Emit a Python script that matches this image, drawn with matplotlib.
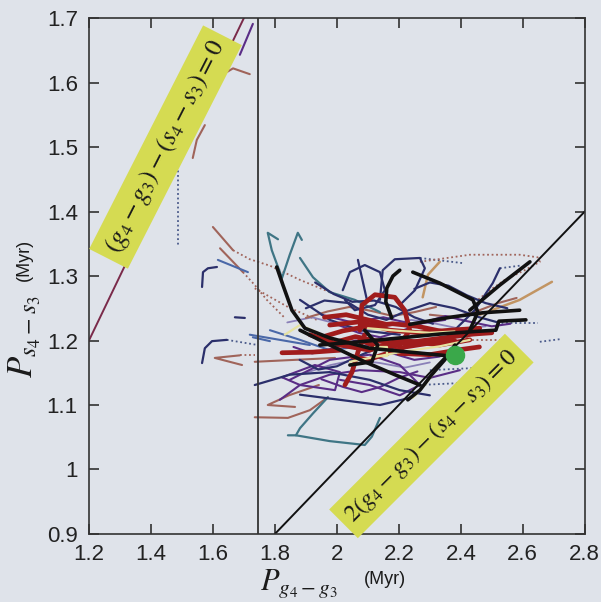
import matplotlib
matplotlib.use("Agg")
import matplotlib.pyplot as plt

plt.rcParams['mathtext.fontset'] = 'stix'
plt.rcParams['font.family'] = ['Liberation Sans', 'DejaVu Sans']

PAGE = '#dfe3ea'
BOX = '#d5db52'

# axis ticks
x_ticks = [1.2, 1.4, 1.6, 1.8, 2.0, 2.2, 2.4, 2.6, 2.8]
x_tick_labels = ['1.2', '1.4', '1.6', '1.8', '2', '2.2', '2.4', '2.6', '2.8']
y_ticks = [0.9, 1.0, 1.1, 1.2, 1.3, 1.4, 1.5, 1.6, 1.7]
y_tick_labels = ['0.9', '1', '1.1', '1.2', '1.3', '1.4', '1.5', '1.6', '1.7']

# resonance lines and reference period
diag_g = [1.2, 1.7]          # (g4-g3)-(s4-s3)=0  ->  P_s = P_g
half_g = [1.8, 2.8]          # 2(g4-g3)-(s4-s3)=0 ->  P_s = P_g/2
vline_g = 1.745
final_point = (2.381, 1.178)

# orbital tracks, (P_g4-g3, P_s4-s3) in Myr
black_tracks = [
    ([1.806, 1.826, 1.855, 1.897, 1.977, 2.106, 2.235, 2.365],
     [1.314, 1.286, 1.247, 1.219, 1.204, 1.188, 1.182, 1.176]),
    ([2.245, 2.332, 2.439, 2.455, 2.429], [1.306, 1.289, 1.263, 1.244, 1.216]),
    ([2.429, 2.526, 2.623], [1.247, 1.286, 1.322]),
    ([2.203, 2.181, 2.161, 2.158, 2.177], [1.309, 1.300, 1.281, 1.260, 1.235]),
    ([1.945, 2.074, 2.203, 2.332, 2.445, 2.513, 2.523, 2.610],
     [1.193, 1.198, 1.204, 1.210, 1.214, 1.216, 1.230, 1.232]),
    ([2.381, 2.348, 2.306, 2.268, 2.229], [1.193, 1.170, 1.147, 1.123, 1.108]),
    ([2.090, 2.132, 2.113, 2.042], [1.216, 1.193, 1.167, 1.162]),
    ([2.235, 2.365, 2.471, 2.590], [1.225, 1.236, 1.243, 1.247]),
    ([1.881, 1.977, 2.090, 2.187, 2.268], [1.216, 1.193, 1.167, 1.147, 1.131]),
]
red_tracks = [
    ([1.977, 2.074, 2.171, 2.268, 2.365, 2.461], [1.224, 1.229, 1.216, 1.212, 1.216, 1.219]),
    ([2.074, 2.081, 2.123, 2.187, 2.219, 2.235, 2.203, 2.139, 2.074],
     [1.216, 1.255, 1.271, 1.267, 1.247, 1.216, 1.193, 1.188, 1.201]),
    ([1.913, 2.010, 2.106, 2.203, 2.332, 2.429], [1.209, 1.193, 1.185, 1.201, 1.193, 1.201]),
    ([1.823, 1.923, 2.010], [1.181, 1.182, 1.185]),
    ([2.090, 2.068, 2.049, 2.026], [1.209, 1.182, 1.151, 1.131]),
    ([2.200, 2.300, 2.400, 2.460], [1.180, 1.178, 1.186, 1.190]),
    ([1.950, 2.020, 2.100, 2.180, 2.260, 2.340, 2.420], [1.205, 1.215, 1.222, 1.226, 1.222, 1.214, 1.208]),
    ([2.000, 2.060, 2.120, 2.200, 2.280, 2.360, 2.440, 2.500],
     [1.198, 1.206, 1.200, 1.195, 1.200, 1.205, 1.210, 1.212]),
    ([1.960, 2.030, 2.100, 2.160], [1.236, 1.240, 1.232, 1.225]),
    ([2.050, 2.100, 2.150, 2.220, 2.300, 2.380], [1.175, 1.170, 1.178, 1.190, 1.196, 1.200]),
]
navy_tracks = [
    ([2.019, 2.042, 2.090, 2.139, 2.155, 2.123, 2.058, 2.026],
     [1.278, 1.306, 1.317, 1.306, 1.278, 1.255, 1.247, 1.263]),
    ([2.139, 2.148, 2.187, 2.268, 2.284, 2.252, 2.203],
     [1.263, 1.309, 1.326, 1.328, 1.312, 1.278, 1.255]),
    ([1.735, 1.848, 1.977, 2.106, 2.203, 2.300], [1.131, 1.147, 1.151, 1.139, 1.123, 1.115]),
    ([1.881, 1.977, 2.074, 2.203], [1.263, 1.232, 1.216, 1.209]),
    ([1.881, 2.010, 2.139, 2.235], [1.116, 1.108, 1.100, 1.111]),
    ([2.068, 2.097], [1.325, 1.263]),
    ([2.365, 2.445, 2.503, 2.526], [1.209, 1.247, 1.289, 1.312]),
    ([1.565, 1.568, 1.584, 1.613], [1.283, 1.306, 1.312, 1.314]),
    ([1.671, 1.703], [1.236, 1.235]),
    ([1.565, 1.574, 1.597, 1.645], [1.165, 1.188, 1.199, 1.201]),
    ([1.900, 1.960, 2.040, 2.100, 2.160, 2.220, 2.300, 2.380, 2.460, 2.520],
     [1.250, 1.262, 1.258, 1.240, 1.232, 1.245, 1.258, 1.250, 1.236, 1.228]),
    ([1.880, 1.940, 2.000, 2.080, 2.140, 2.200], [1.170, 1.155, 1.160, 1.178, 1.190, 1.185]),
    ([2.250, 2.300, 2.360, 2.420, 2.480, 2.550], [1.280, 1.290, 1.285, 1.270, 1.258, 1.250]),
    ([1.930, 1.990, 2.050, 2.120, 2.190, 2.250, 2.310], [1.290, 1.272, 1.260, 1.262, 1.252, 1.236, 1.226]),
]
purple_tracks = [
    ([1.816, 1.881, 1.977, 2.074, 2.203, 2.300, 2.397], [1.108, 1.131, 1.147, 1.154, 1.151, 1.142, 1.154]),
    ([1.848, 1.977, 2.106, 2.203, 2.268, 2.203, 2.106, 2.010],
     [1.139, 1.170, 1.178, 1.162, 1.131, 1.115, 1.131, 1.139]),
    ([1.823, 1.929, 2.010, 1.994, 1.881, 1.823], [1.143, 1.162, 1.151, 1.123, 1.131, 1.143]),
    ([1.687, 1.729], [1.643, 1.691]),
    ([1.950, 2.050, 2.150, 2.250, 2.350], [1.240, 1.228, 1.236, 1.225, 1.232]),
    ([1.860, 1.920, 1.990, 2.060, 2.120, 2.180, 2.250, 2.330, 2.400],
     [1.190, 1.180, 1.188, 1.200, 1.196, 1.180, 1.170, 1.175, 1.188]),
    ([2.000, 2.070, 2.140, 2.210, 2.280, 2.350, 2.420, 2.500, 2.560],
     [1.225, 1.212, 1.205, 1.215, 1.228, 1.238, 1.230, 1.222, 1.226]),
    ([1.950, 2.020, 2.080, 2.140, 2.200, 2.260], [1.140, 1.128, 1.120, 1.128, 1.142, 1.152]),
]
lavender_tracks = [
    ([1.840, 1.920, 2.000, 2.080, 2.160, 2.240, 2.320, 2.400, 2.480],
     [1.228, 1.236, 1.226, 1.215, 1.222, 1.232, 1.226, 1.218, 1.222]),
    ([1.900, 1.980, 2.060, 2.140, 2.220, 2.300], [1.150, 1.162, 1.170, 1.165, 1.158, 1.166]),
]
blue_tracks = [
    ([1.616, 1.713], [1.325, 1.306]),
    ([1.729, 1.784], [1.205, 1.199]),
    ([1.784, 1.881, 1.977, 2.106], [1.216, 1.201, 1.185, 1.193]),
    ([1.719, 1.816, 1.913], [1.209, 1.201, 1.193]),
]
teal_tracks = [
    ([1.810, 1.777, 1.790, 1.823, 1.848, 1.874, 1.887], [1.357, 1.367, 1.340, 1.297, 1.333, 1.367, 1.356]),
    ([1.881, 1.923, 1.977, 2.058, 2.139], [1.328, 1.298, 1.275, 1.263, 1.244]),
    ([1.971, 1.923, 1.881, 1.868, 1.842], [1.112, 1.087, 1.064, 1.053, 1.053]),
    ([1.868, 1.977, 2.090, 2.113, 2.139], [1.053, 1.044, 1.038, 1.051, 1.080]),
]
brown_tracks = [
    ([1.623, 1.665, 1.719], [1.610, 1.622, 1.613]),
    ([1.535, 1.548, 1.574], [1.483, 1.511, 1.534]),
    ([1.600, 1.665], [1.376, 1.340]),
    ([1.623, 1.697], [1.343, 1.306]),
    ([1.687, 1.606, 1.694], [1.177, 1.173, 1.162]),
    ([1.735, 1.994], [1.167, 1.173]),
    ([1.735, 1.842, 1.913, 1.971], [1.081, 1.080, 1.092, 1.112]),
    ([1.865, 1.777, 1.845, 1.942], [1.097, 1.100, 1.115, 1.131]),
    ([1.900, 1.970, 2.040, 2.110, 2.180, 2.250, 2.320], [1.235, 1.245, 1.252, 1.246, 1.238, 1.244, 1.252]),
    ([2.300, 2.380, 2.450, 2.520, 2.580], [1.240, 1.236, 1.245, 1.258, 1.266]),
]
tan_tracks = [
    ([2.277, 2.294, 2.332], [1.267, 1.302, 1.322]),
    ([2.461, 2.590, 2.694], [1.240, 1.263, 1.291]),
]
cream_tracks = [
    ([2.123, 2.161, 2.161, 2.123, 2.123], [1.190, 1.190, 1.176, 1.176, 1.190]),
    ([2.042, 2.203, 2.332, 2.429], [1.167, 1.182, 1.191, 1.201]),
    ([2.365, 2.323, 2.284, 2.245], [1.182, 1.157, 1.131, 1.111]),
    ([1.832, 1.881, 1.939], [1.209, 1.224, 1.212]),
    ([2.100, 2.200, 2.300, 2.380], [1.219, 1.215, 1.212, 1.214]),
]
dotted_brown = [
    ([1.665, 1.719, 1.784, 1.881, 1.977], [1.340, 1.326, 1.316, 1.294, 1.275]),
    ([1.697, 1.735, 1.774, 1.832], [1.306, 1.286, 1.263, 1.235]),
    ([1.687, 1.735], [1.177, 1.177]),
    ([2.268, 2.429, 2.590, 2.648, 2.655, 2.606, 2.542, 2.494, 2.455],
     [1.322, 1.333, 1.333, 1.329, 1.322, 1.309, 1.294, 1.278, 1.263]),
    ([1.735, 1.842, 1.935], [1.281, 1.252, 1.232]),
    ([2.406, 2.526], [1.201, 1.201]),
]
dotted_navy = [
    ([1.487, 1.487], [1.470, 1.345]),
    ([1.645, 1.745], [1.201, 1.193]),
    ([2.516, 2.648], [1.227, 1.227]),
    ([2.655, 2.719], [1.198, 1.202]),
    ([2.268, 2.406], [1.328, 1.320]),
    ([2.300, 2.429, 2.526], [1.154, 1.157, 1.159]),
    ([2.268, 2.397], [1.131, 1.134]),
    ([2.526, 2.590], [1.312, 1.316]),
]

fig = plt.figure(figsize=(6.01, 6.02), dpi=100, facecolor=PAGE)
ax = fig.add_axes([0.148, 0.113, 0.825, 0.857], facecolor=PAGE)


def draw(tracks, **kw):
    for gx, sy in tracks:
        ax.plot(gx, sy, solid_capstyle='round', **kw)


draw(dotted_navy, color='#4a5a8a', lw=1.3, ls=(0, (1, 1.5)))
draw(dotted_brown, color='#a0645a', lw=1.3, ls=(0, (1, 1.5)))
draw(lavender_tracks, color='#8a80b8', lw=1.3)
draw(brown_tracks, color='#a0645a', lw=1.5)
draw(tan_tracks, color='#c29563', lw=1.8)
draw(teal_tracks, color='#3f7585', lw=1.6)
draw(blue_tracks, color='#4a68a8', lw=1.5)
draw(purple_tracks, color='#5a2d86', lw=1.5)
draw(navy_tracks, color='#2b2f6b', lw=1.6)
draw(red_tracks, color='#a01c1c', lw=3.4)
draw(cream_tracks, color='#e6e2a0', lw=1.6)
draw(black_tracks, color='#111111', lw=2.6)

ax.plot(final_point[0], final_point[1], 'o', color='#3aa84a', ms=13, zorder=5)

# resonance lines
ax.plot(diag_g, [g for g in diag_g], color='#7a2a4a', lw=1.4)
ax.plot(half_g, [g / 2 for g in half_g], color='#111111', lw=1.4)
ax.axvline(vline_g, color='#333333', lw=1.3)

ax.text(1.447, 1.500, r'$(g_4-g_3)-(s_4-s_3)=0$', rotation=63, fontsize=18.5,
        ha='center', va='center', rotation_mode='anchor', color='#1a1a1a',
        bbox=dict(boxstyle='square,pad=0.3', fc=BOX, ec='none'))
ax.text(2.305, 1.052, r'$2(g_4-g_3)-(s_4-s_3)=0$', rotation=45, fontsize=17.5,
        ha='center', va='center', rotation_mode='anchor', color='#1a1a1a',
        bbox=dict(boxstyle='square,pad=0.3', fc=BOX, ec='none'))

ax.set_xlim(1.2, 2.8)
ax.set_ylim(0.9, 1.7)
ax.set_xticks(x_ticks)
ax.set_xticklabels(x_tick_labels)
ax.set_yticks(y_ticks)
ax.set_yticklabels(y_tick_labels)
ax.tick_params(direction='in', length=7, width=1.1, top=True, right=True,
               labelsize=16, colors='#222222')
ax.tick_params(axis='x', pad=7)
ax.tick_params(axis='y', pad=8)
for sp in ax.spines.values():
    sp.set_color('#333333')
    sp.set_linewidth(1.2)

fig.text(0.497, 0.021, r'$P_{g_4-g_3}$', fontsize=22, ha='center', va='baseline', color='#1a1a1a')
fig.text(0.640, 0.038, '(Myr)', fontsize=13, ha='center', va='center', color='#1a1a1a')
fig.text(0.042, 0.44, r'$P_{s_4-s_3}$', fontsize=25, ha='center', va='center',
         rotation=90, color='#1a1a1a')
fig.text(0.040, 0.568, '(Myr)', fontsize=13, ha='center', va='center',
         rotation=90, color='#1a1a1a')

fig.savefig('out.png', dpi=100, facecolor=PAGE)
